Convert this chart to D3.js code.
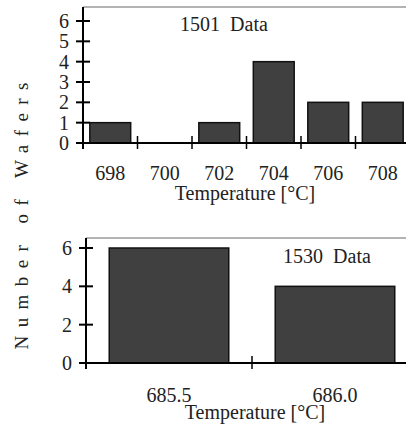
<!DOCTYPE html>
<html>
<head>
<meta charset="utf-8">
<script src="https://cdn.jsdelivr.net/npm/d3@7"></script>
<style>
  body { margin: 0; background: #fff; }
  svg { display: block; }
  text { font-family: "Liberation Serif", "DejaVu Serif", "Times New Roman", serif; fill: #222; }
</style>
</head>
<body>
<svg id="chart"></svg>
<script>
// 1501 run
const temps1501 = ['698', '700', '702', '704', '706', '708'];
const wafers1501 = [1, 0, 1, 4, 2, 2];
const yTicks1501 = [0, 1, 2, 3, 4, 5, 6];

// 1530 run
const temps1530 = ['685.5', '686.0'];
const wafers1530 = [6, 4];
const yTicks1530 = [0, 2, 4, 6];

const width = 406;
const height = 425;

const svg = d3.select('#chart')
  .attr('width', width)
  .attr('height', height);

function panel (opts) {
  const g = svg.append('g');

  const x = d3.scaleBand()
    .domain(opts.cats)
    .range([opts.left, opts.right])
    .paddingInner(opts.pad)
    .paddingOuter(opts.pad / 2);

  const y = d3.scaleLinear()
    .domain([0, 6])
    .range([opts.bottom, opts.top]);

  // grey frame line on top
  g.append('line')
    .attr('x1', opts.left).attr('x2', width)
    .attr('y1', opts.frameTop).attr('y2', opts.frameTop)
    .attr('stroke', '#9a9a9a')
    .attr('stroke-width', 1.5);

  // bars
  g.selectAll('rect.bar')
    .data(opts.values)
    .enter()
    .append('rect')
    .attr('class', 'bar')
    .attr('x', (d, i) => x(opts.cats[i]))
    .attr('width', x.bandwidth())
    .attr('y', d => y(d))
    .attr('height', d => y(0) - y(d))
    .attr('fill', '#404040')
    .attr('stroke', '#111')
    .attr('stroke-width', 1.5);

  // x axis line + boundary ticks
  g.append('line')
    .attr('x1', opts.left).attr('x2', width)
    .attr('y1', y(0)).attr('y2', y(0))
    .attr('stroke', '#000')
    .attr('stroke-width', 2);

  const bounds = opts.cats.slice(1).map(c => x(c) - x.step() * x.paddingInner() / 2);
  g.selectAll('line.xtick')
    .data(bounds)
    .enter()
    .append('line')
    .attr('class', 'xtick')
    .attr('x1', d => d).attr('x2', d => d)
    .attr('y1', y(0) - 7).attr('y2', y(0) + 6)
    .attr('stroke', '#000')
    .attr('stroke-width', 1.5);

  g.selectAll('text.xlab')
    .data(opts.cats)
    .enter()
    .append('text')
    .attr('class', 'xlab')
    .attr('x', d => x(d) + x.bandwidth() / 2)
    .attr('y', opts.tickBase)
    .attr('text-anchor', 'middle')
    .style('font-size', '20px')
    .text(d => d);

  // y axis
  g.append('line')
    .attr('x1', opts.left).attr('x2', opts.left)
    .attr('y1', opts.frameTop).attr('y2', y(0) + 6)
    .attr('stroke', '#000')
    .attr('stroke-width', 2);

  g.selectAll('line.ytick')
    .data(opts.yTicks)
    .enter()
    .append('line')
    .attr('class', 'ytick')
    .attr('x1', opts.left - 7).attr('x2', opts.left + 7)
    .attr('y1', d => y(d)).attr('y2', d => y(d))
    .attr('stroke', '#000')
    .attr('stroke-width', 2);

  g.selectAll('text.ylab')
    .data(opts.yTicks)
    .enter()
    .append('text')
    .attr('class', 'ylab')
    .attr('x', opts.left - 14)
    .attr('y', d => y(d) + 7)
    .attr('text-anchor', 'end')
    .style('font-size', '20px')
    .text(d => d);

  g.append('text')
    .attr('x', opts.titleX)
    .attr('y', opts.titleY)
    .attr('text-anchor', 'middle')
    .style('font-size', '20px')
    .style('white-space', 'pre')
    .text(opts.title);

  g.append('text')
    .attr('x', opts.xTitleX)
    .attr('y', opts.xTitleBase)
    .attr('text-anchor', 'middle')
    .style('font-size', '20px')
    .text('Temperature [°C]');
}

panel({
  cats: temps1501, values: wafers1501, yTicks: yTicks1501,
  left: 83, right: 410, pad: 0.25,
  top: 21, bottom: 143, frameTop: 7,
  tickBase: 180, xTitleX: 245, xTitleBase: 200,
  title: '1501  Data', titleX: 224, titleY: 31
});

panel({
  cats: temps1530, values: wafers1530, yTicks: yTicks1530,
  left: 86, right: 418, pad: 0.28,
  top: 248, bottom: 363, frameTop: 238,
  tickBase: 402, xTitleX: 255, xTitleBase: 419,
  title: '1530  Data', titleX: 327, titleY: 263
});

// shared y title
svg.append('text')
  .attr('transform', 'translate(28, 216) rotate(-90)')
  .attr('text-anchor', 'middle')
  .attr('textLength', 267)
  .attr('lengthAdjust', 'spacing')
  .style('font-size', '19px')
  .style('white-space', 'pre')
  .text('Number of Wafers');
</script>
</body>
</html>
